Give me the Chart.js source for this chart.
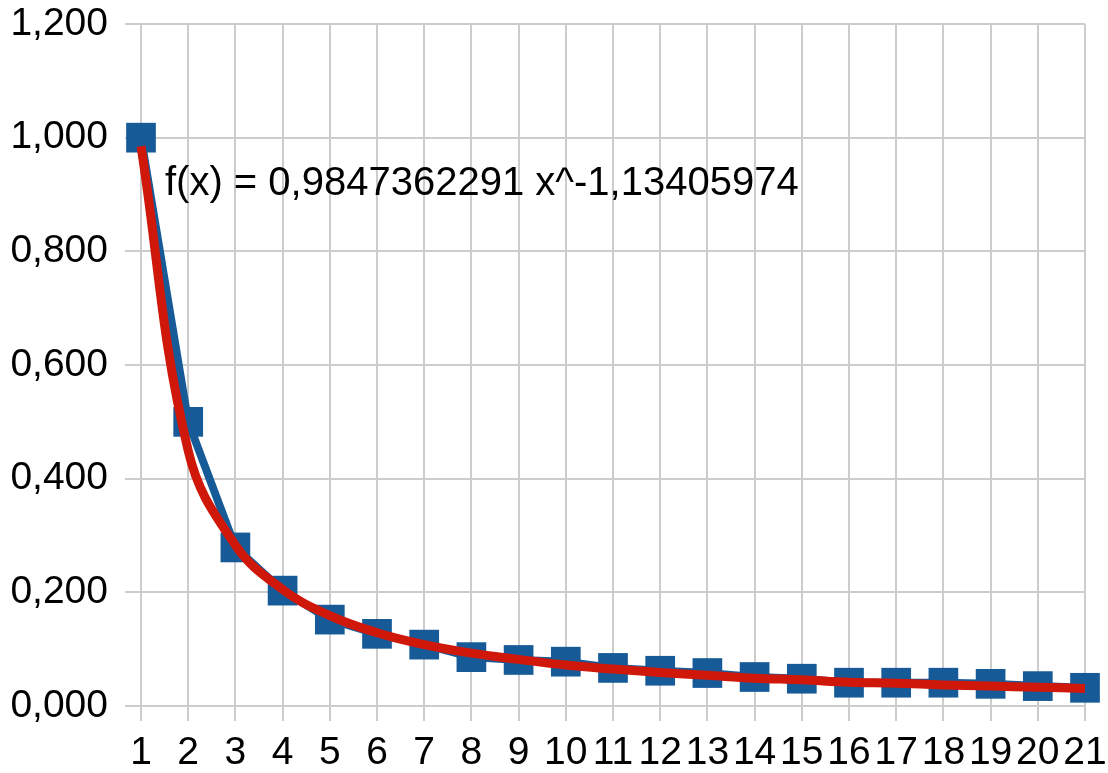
<!DOCTYPE html>
<html>
<head>
<meta charset="utf-8">
<script src="https://cdn.jsdelivr.net/npm/chart.js@4/dist/chart.umd.min.js"></script>
<style>
  html, body { margin: 0; padding: 0; background: #fff; }
  #wrap { width: 1108px; height: 773px; }
</style>
</head>
<body>
<div id="wrap"><canvas id="powerChart"></canvas></div>
<script>
// data
const categories = ["1","2","3","4","5","6","7","8","9","10","11","12","13","14","15","16","17","18","19","20","21"];
const measured = [1.000, 0.500, 0.279, 0.203, 0.152, 0.127, 0.108, 0.086, 0.081, 0.078, 0.067,
                  0.062, 0.058, 0.051, 0.048, 0.041, 0.041, 0.041, 0.039, 0.035, 0.032];
// red trend line, values read at each category
const trend = [0.985, 0.449, 0.283, 0.205, 0.159, 0.129, 0.108, 0.093, 0.082, 0.072, 0.065,
               0.059, 0.054, 0.049, 0.046, 0.042, 0.040, 0.037, 0.035, 0.033, 0.031];
const yTicks = { min: 0, max: 1.2, step: 0.2 };
const trendLabel = "f(x) = 0,9847362291 x^-1,13405974";

const FONT = "'Liberation Sans', Arial, Helvetica, sans-serif";
const GRID = "#cccccc";

const trendText = {
  id: "trendText",
  afterDatasetsDraw(chart) {
    const { ctx, chartArea } = chart;
    ctx.save();
    ctx.font = "40px " + FONT;
    ctx.fillStyle = "#000";
    ctx.textBaseline = "alphabetic";
    ctx.fillText(trendLabel, chartArea.left + 24, 195);
    ctx.restore();
  }
};

new Chart(document.getElementById("powerChart"), {
  type: "line",
  data: {
    labels: categories,
    datasets: [
      {
        label: "trend",
        data: trend,
        borderColor: "#d0180a",
        borderWidth: 9,
        pointRadius: 0,
        tension: 0.4,
        fill: false,
        order: 1
      },
      {
        label: "values",
        data: measured,
        borderColor: "#165a98",
        backgroundColor: "#165a98",
        borderWidth: 8,
        pointStyle: "rect",
        pointRadius: 21,
        pointBorderWidth: 0,
        tension: 0,
        fill: false,
        order: 2
      }
    ]
  },
  options: {
    responsive: true,
    maintainAspectRatio: false,
    animation: false,
    layout: { padding: { top: 24, right: 23, left: 0, bottom: 0 } },
    plugins: {
      legend: { display: false },
      tooltip: { enabled: false }
    },
    scales: {
      x: {
        offset: false,
        grid: { color: GRID, lineWidth: 2, tickLength: 15, drawTicks: true },
        border: { color: GRID, width: 2 },
        ticks: {
          color: "#000",
          font: { family: FONT, size: 39 },
          autoSkip: false,
          maxRotation: 0,
          padding: 9
        },
        afterFit(scale) {
          scale.height = 67;
          scale.paddingLeft = 0;
          scale.paddingRight = 0;
        }
      },
      y: {
        min: yTicks.min,
        max: yTicks.max,
        grid: { color: GRID, lineWidth: 2, tickLength: 16 },
        border: { color: GRID, width: 2 },
        ticks: {
          stepSize: yTicks.step,
          color: "#000",
          font: { family: FONT, size: 39 },
          padding: 17,
          callback: v => v.toFixed(3).replace(".", ",")
        },
        afterFit(scale) {
          scale.width = 141;
          scale.paddingTop = 0;
          scale.paddingBottom = 0;
        }
      }
    }
  },
  plugins: [trendText]
});
</script>
</body>
</html>
